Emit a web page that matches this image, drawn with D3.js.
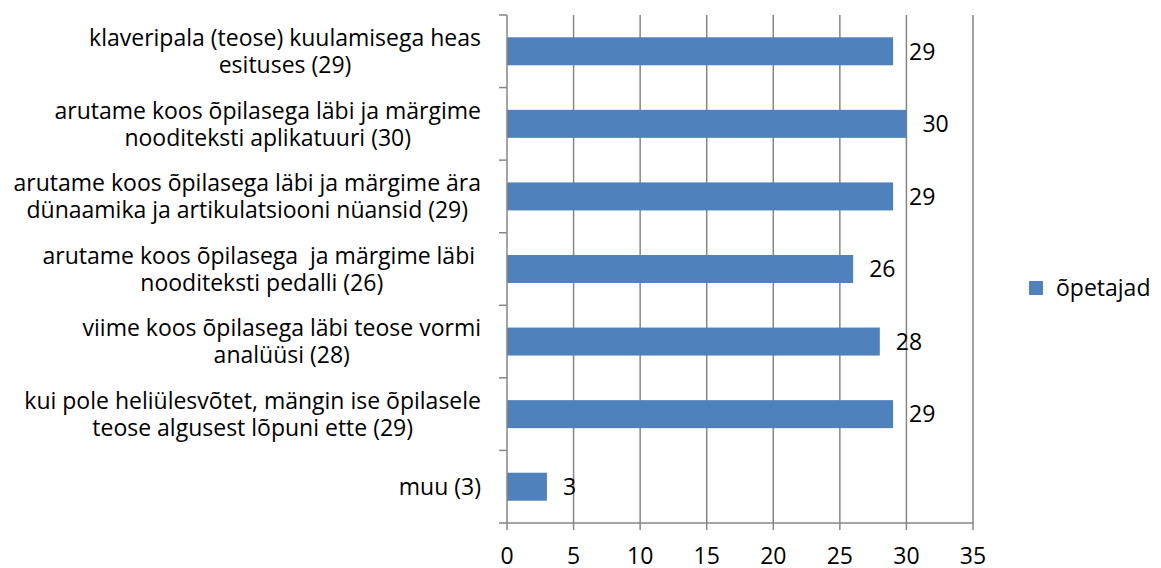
<!DOCTYPE html>
<html>
<head>
<meta charset="utf-8">
<script src="https://cdn.jsdelivr.net/npm/d3@7"></script>
<style>
  body { margin: 0; background: #fff; }
  text { font-family: "Open Sans", Lato, sans-serif; fill: #000; }
</style>
</head>
<body>
<div id="chart"></div>
<script>
var categories = [
    ["klaveripala (teose) kuulamisega heas", "esituses (29)"],
    ["arutame koos õpilasega läbi ja märgime", "nooditeksti aplikatuuri (30)"],
    ["arutame koos õpilasega läbi ja märgime ära", "dünaamika ja artikulatsiooni nüansid (29)"],
    ["arutame koos õpilasega  ja märgime läbi ", "nooditeksti pedalli (26)"],
    ["viime koos õpilasega läbi teose vormi", "analüüsi (28)"],
    ["kui pole heliülesvõtet, mängin ise õpilasele", "teose algusest lõpuni ette (29)"],
    ["muu (3)"]
];
var values = [29, 30, 29, 26, 28, 29, 3];
var xTicks = [0, 5, 10, 15, 20, 25, 30, 35];
var seriesName = "õpetajad";

var width = 1161, height = 568;
var plotLeft = 507, plotRight = 973, plotTop = 15, plotBottom = 523;
var barColor = "#4F81BD";
var gridColor = "#868686";
var fontSize = "23px";

var svg = d3.select("#chart")
    .append("svg")
    .attr("width", width)
    .attr("height", height);

var x = d3.scaleLinear().domain([0, 35]).range([plotLeft, plotRight]);
var y = d3.scaleBand().domain(d3.range(categories.length)).range([plotTop, plotBottom]);

// vertical gridlines
svg.append("g")
    .selectAll("line")
    .data(xTicks.slice(1))
    .enter()
    .append("line")
    .attr("x1", function(d) { return x(d); })
    .attr("x2", function(d) { return x(d); })
    .attr("y1", plotTop)
    .attr("y2", plotBottom)
    .attr("stroke", gridColor)
    .attr("stroke-width", 1.5);

// bars
var barH = 28;
svg.append("g")
    .selectAll("rect")
    .data(values)
    .enter()
    .append("rect")
    .attr("x", x(0))
    .attr("y", function(d, i) { return y(i) + y.bandwidth() / 2 - barH / 2; })
    .attr("width", function(d) { return x(d) - x(0); })
    .attr("height", barH)
    .attr("fill", barColor);

// value labels
svg.append("g")
    .selectAll("text")
    .data(values)
    .enter()
    .append("text")
    .attr("x", function(d) { return x(d) + 16; })
    .attr("y", function(d, i) { return y(i) + y.bandwidth() / 2; })
    .attr("dy", "0.36em")
    .style("font-size", fontSize)
    .text(function(d) { return d; });

// y axis line and ticks
svg.append("line")
    .attr("x1", plotLeft).attr("x2", plotLeft)
    .attr("y1", plotTop).attr("y2", plotBottom)
    .attr("stroke", gridColor).attr("stroke-width", 1.5);
svg.append("g")
    .selectAll("line")
    .data(d3.range(categories.length + 1))
    .enter()
    .append("line")
    .attr("x1", plotLeft - 8).attr("x2", plotLeft)
    .attr("y1", function(d) { return plotTop + d * y.step(); })
    .attr("y2", function(d) { return plotTop + d * y.step(); })
    .attr("stroke", gridColor).attr("stroke-width", 1.5);

// x axis line and ticks
svg.append("line")
    .attr("x1", plotLeft).attr("x2", plotRight)
    .attr("y1", plotBottom).attr("y2", plotBottom)
    .attr("stroke", gridColor).attr("stroke-width", 1.5);
svg.append("g")
    .selectAll("line")
    .data(xTicks)
    .enter()
    .append("line")
    .attr("x1", function(d) { return x(d); })
    .attr("x2", function(d) { return x(d); })
    .attr("y1", plotBottom).attr("y2", plotBottom + 7)
    .attr("stroke", gridColor).attr("stroke-width", 1.5);
svg.append("g")
    .selectAll("text")
    .data(xTicks)
    .enter()
    .append("text")
    .attr("x", function(d) { return x(d); })
    .attr("y", 556)
    .attr("dy", "0.36em")
    .attr("text-anchor", "middle")
    .style("font-size", fontSize)
    .text(function(d) { return d; });

// category labels: block right-aligned, lines centered inside
var labelRight = 481;
var lineGap = 27;
var labels = svg.append("g")
    .selectAll("g")
    .data(categories)
    .enter()
    .append("g");

labels.each(function(lines, i) {
    var g = d3.select(this);
    var cy = y(i) + y.bandwidth() / 2;
    var texts = g.selectAll("text")
        .data(lines)
        .enter()
        .append("text")
        .attr("y", function(d, j) { return cy + (j - (lines.length - 1) / 2) * lineGap; })
        .attr("dy", "0.36em")
        .attr("text-anchor", "middle")
        .style("font-size", fontSize)
        .style("white-space", "pre")
        .text(function(d) { return d; });
    var maxW = 0;
    texts.each(function() { maxW = Math.max(maxW, this.getComputedTextLength()); });
    texts.attr("x", labelRight - maxW / 2);
});

// legend
svg.append("rect")
    .attr("x", 1029).attr("y", 281)
    .attr("width", 14).attr("height", 14)
    .attr("fill", barColor);
svg.append("text")
    .attr("x", 1056).attr("y", 288)
    .attr("dy", "0.36em")
    .style("font-size", fontSize)
    .text(seriesName);
</script>
</body>
</html>
